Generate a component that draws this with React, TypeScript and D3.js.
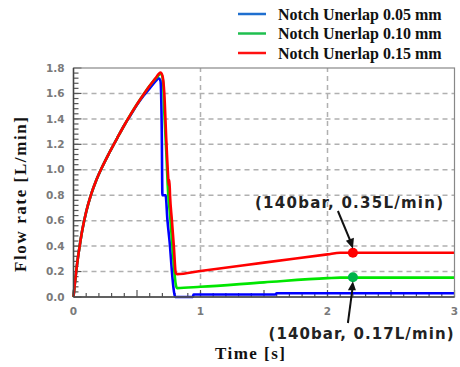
import * as d3 from 'd3';

// series: [time s, flow L/min]
const blueData: [number, number][] = [
  [0, 0], [0.01, 0.1], [0.02, 0.19], [0.035, 0.31], [0.05, 0.41], [0.07, 0.53],
  [0.1, 0.67], [0.14, 0.81], [0.18, 0.92], [0.22, 1.01], [0.28, 1.13], [0.35, 1.26],
  [0.4, 1.35], [0.45, 1.43], [0.5, 1.51], [0.55, 1.58], [0.6, 1.64], [0.65, 1.7],
  [0.67, 1.72], [0.685, 1.7], [0.695, 1.3], [0.7, 0.8], [0.725, 0.8], [0.74, 0.6],
  [0.76, 0.4], [0.775, 0.2], [0.79, 0.05], [0.8, 0.0], [0.94, 0.0], [0.945, 0.02],
  [1.59, 0.02], [1.6, 0.03], [3, 0.03],
];
const greenData: [number, number][] = [
  [0, 0], [0.01, 0.1], [0.02, 0.19], [0.035, 0.31], [0.05, 0.41], [0.07, 0.53],
  [0.1, 0.67], [0.14, 0.81], [0.18, 0.92], [0.22, 1.01], [0.28, 1.13], [0.35, 1.26],
  [0.4, 1.35], [0.45, 1.435], [0.5, 1.515], [0.55, 1.59], [0.6, 1.66], [0.65, 1.72],
  [0.69, 1.755], [0.705, 1.7], [0.715, 1.45], [0.73, 1.15], [0.745, 0.82], [0.76, 0.65],
  [0.775, 0.45], [0.79, 0.25], [0.805, 0.1], [0.815, 0.07], [1.0, 0.08], [1.5, 0.115],
  [2.0, 0.148], [2.1, 0.152], [3, 0.152],
];
const redData: [number, number][] = [
  [0, 0], [0.01, 0.1], [0.02, 0.19], [0.035, 0.31], [0.05, 0.41], [0.07, 0.53],
  [0.1, 0.67], [0.14, 0.81], [0.18, 0.92], [0.22, 1.01], [0.28, 1.13], [0.35, 1.26],
  [0.4, 1.35], [0.45, 1.435], [0.5, 1.515], [0.55, 1.59], [0.6, 1.66], [0.65, 1.725],
  [0.685, 1.765], [0.7, 1.74], [0.715, 1.6], [0.73, 1.25], [0.745, 0.95], [0.75, 0.88],
  [0.755, 0.92], [0.76, 0.8], [0.775, 0.6], [0.79, 0.4], [0.805, 0.19], [0.815, 0.18],
  [1.0, 0.205], [1.5, 0.27], [2.0, 0.335], [2.1, 0.348], [3, 0.348],
];

const seriesNames = ['Notch Unerlap 0.05 mm', 'Notch Unerlap 0.10 mm', 'Notch Unerlap 0.15 mm'];
const legendColors = ['#1f6fcf', '#1fbf4f', '#ff1010'];
const lineColors = ['#0000ff', '#00e600', '#ff0000'];
const seriesData = [blueData, greenData, redData];

const yTicks = [0, 0.2, 0.4, 0.6, 0.8, 1.0, 1.2, 1.4, 1.6, 1.8];
const xTicks = [0, 1, 2, 3];

const markers = [
  { t: 2.2, v: 0.348, color: '#ff0000', label: '(140bar, 0.35L/min)' },
  { t: 2.2, v: 0.155, color: '#00b34a', label: '(140bar, 0.17L/min)' },
];

export default function App() {
  const width = 460;
  const height = 367;
  const x = d3.scaleLinear().domain([0, 3]).range([73.5, 454.5]);
  const y = d3.scaleLinear().domain([0, 1.8]).range([297, 68]);
  const line = d3.line<[number, number]>()
    .x(d => x(d[0]))
    .y(d => y(d[1]))
    .curve(d3.curveMonotoneX);

  const yMinor = d3.range(0, 1.8001, 0.04);
  const xMinor = d3.range(0, 3.0001, 0.1);

  const serif = '"Liberation Serif", "Times New Roman", serif';
  const sans = '"DejaVu Sans", Verdana, sans-serif';

  const mx = x(2.2);
  const y1 = y(markers[0].v);
  const y2 = y(markers[1].v);

  return (
    <svg width={width} height={height} style={{ position: 'absolute', left: 0, top: 0, background: '#fff' }}>
      {/* grid */}
      {yTicks.slice(1, -1).map(v => (
        <line key={'gy' + v} x1={x(0)} x2={x(3)} y1={y(v)} y2={y(v)}
          stroke="#b0b0b0" strokeWidth={1.5} strokeDasharray="5,4" />
      ))}
      {xTicks.slice(1, -1).map(t => (
        <line key={'gx' + t} x1={x(t)} x2={x(t)} y1={y(0)} y2={y(1.8)}
          stroke="#b0b0b0" strokeWidth={1.5} strokeDasharray="5,4" />
      ))}
      {/* minor ticks */}
      {yMinor.map((v, i) => (
        <line key={'ty' + i} x1={x(0)} x2={x(0) + (i % 5 === 0 ? 8 : 5)} y1={y(v)} y2={y(v)}
          stroke="#555" strokeWidth={1.2} />
      ))}
      {xMinor.map((t, i) => (
        <line key={'tx' + i} x1={x(t)} x2={x(t)} y1={y(0)} y2={y(0) - (i % 5 === 0 ? 7 : 4)}
          stroke="#555" strokeWidth={1.2} />
      ))}
      {/* series */}
      {seriesData.map((d, i) => (
        <path key={'s' + i} d={line(d) || ''} fill="none" stroke={lineColors[i]}
          strokeWidth={2.6} strokeLinejoin="round" />
      ))}
      {/* frame */}
      <rect x={x(0)} y={y(1.8)} width={x(3) - x(0)} height={y(0) - y(1.8)}
        fill="none" stroke="#888" strokeWidth={1.2} />
      <line x1={x(0)} x2={x(0)} y1={y(0)} y2={y(1.8)} stroke="#444" strokeWidth={1.5} />
      <line x1={x(0)} x2={x(3)} y1={y(0)} y2={y(0)} stroke="#444" strokeWidth={1.5} />
      {/* tick labels */}
      {yTicks.map(v => (
        <text key={'ly' + v} x={x(0) - 9} y={y(v)} dy="0.35em" textAnchor="end"
          fontFamily={sans} fontWeight="bold" fontSize={10.5} fill="#7a7a7a">{v.toFixed(1)}</text>
      ))}
      {xTicks.map(t => (
        <text key={'lx' + t} x={x(t)} y={y(0) + 18} textAnchor="middle"
          fontFamily={sans} fontWeight="bold" fontSize={10.5} fill="#7a7a7a">{t}</text>
      ))}
      {/* axis titles */}
      <text transform={`translate(26, ${(y(0) + y(1.8)) / 2 + 12}) rotate(-90)`} textAnchor="middle"
        fontFamily={serif} fontWeight="bold" fontSize={17} textLength={155} lengthAdjust="spacing"
        fill="#111">Flow rate [L/min]</text>
      <text x={250} y={359} textAnchor="middle" fontFamily={serif} fontWeight="bold"
        fontSize={17} textLength={70} lengthAdjust="spacing" fill="#111">Time [s]</text>
      {/* markers and annotations */}
      {markers.map((m, i) => (
        <circle key={'m' + i} cx={x(m.t)} cy={y(m.v)} r={5} fill={m.color} />
      ))}
      <text x={349} y={208} textAnchor="middle" fontFamily={sans} fontWeight="bold"
        fontSize={15} textLength={188} lengthAdjust="spacing" fill="#222">{markers[0].label}</text>
      <line x1={mx - 15} y1={211} x2={mx - 1} y2={y1 - 8} stroke="#111" strokeWidth={2} />
      <path d={`M${mx},${y1 - 4} l-7,-8 l8,-3 z`} fill="#111" />
      <text x={361} y={339} textAnchor="middle" fontFamily={sans} fontWeight="bold"
        fontSize={15} textLength={185} lengthAdjust="spacing" fill="#222">{markers[1].label}</text>
      <line x1={mx - 5} y1={323} x2={mx} y2={y2 + 8} stroke="#111" strokeWidth={2} />
      <path d={`M${mx},${y2 + 4} l-5,9 l8,0 z`} fill="#111" />
      {/* legend */}
      {seriesNames.map((name, i) => (
        <g key={'lg' + i} transform={`translate(0, ${14 + i * 19.5})`}>
          <line x1={238} x2={266} y1={0} y2={0} stroke={legendColors[i]} strokeWidth={2.5} />
          <text x={278} y={0} dy="0.35em" fontFamily={serif} fontWeight="bold" fontSize={16}
            fill="#111">{name}</text>
        </g>
      ))}
    </svg>
  );
}
